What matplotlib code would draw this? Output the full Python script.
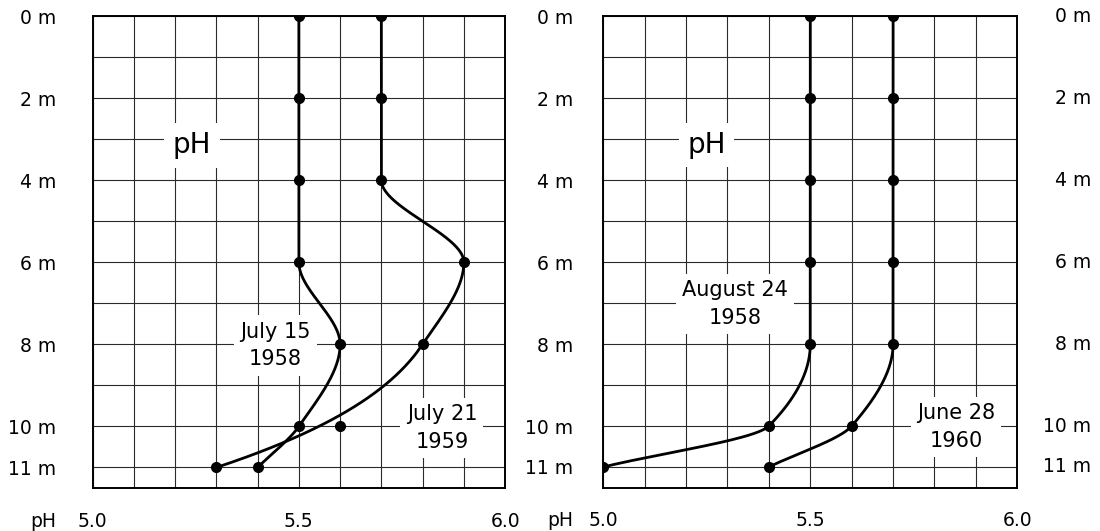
import numpy as np
import matplotlib
matplotlib.use("Agg")
import matplotlib.pyplot as plt

plt.rcParams["font.family"] = ["DejaVu Sans"]

# Depth axis (metres) and pH axis
depth_ticks = [0, 2, 4, 6, 8, 10, 11]
depth_labels = ["0 m", "2 m", "4 m", "6 m", "8 m", "10 m", "11 m"]
ph_ticks = [5.0, 5.5, 6.0]
ph_tick_labels = ["5.0", "5.5", "6.0"]

# Measured profiles
depths = [0, 2, 4, 6, 8, 10, 11]
ph_july15_1958 = [5.5, 5.5, 5.5, 5.5, 5.6, 5.5, 5.4]
ph_july21_1959 = [5.7, 5.7, 5.7, 5.9, 5.8, 5.6, 5.3]
on_curve_july21_1959 = [True, True, True, True, True, False, True]
ph_aug24_1958 = [5.5, 5.5, 5.5, 5.5, 5.5, 5.4, 5.0]
ph_june28_1960 = [5.7, 5.7, 5.7, 5.7, 5.7, 5.6, 5.4]

label_july15 = "July 15\n1958"
label_july21 = "July 21\n1959"
label_aug24 = "August 24\n1958"
label_june28 = "June 28\n1960"


def profile_slopes(xk, yk):
    """Fritsch-Carlson derivatives inside, one-sided secants at the ends."""
    xk = np.asarray(xk, float)
    yk = np.asarray(yk, float)
    h = np.diff(xk)
    delta = np.diff(yk) / h
    n = len(xk)
    d = np.zeros(n)
    for k in range(1, n - 1):
        if delta[k - 1] * delta[k] > 0:
            w1 = 2 * h[k] + h[k - 1]
            w2 = h[k] + 2 * h[k - 1]
            d[k] = (w1 + w2) / (w1 / delta[k - 1] + w2 / delta[k])
    d[0] = delta[0]
    d[-1] = delta[-1]
    return d


def hermite(xk, yk, dk, xs):
    xk = np.asarray(xk, float)
    yk = np.asarray(yk, float)
    dk = np.asarray(dk, float)
    h = np.diff(xk)
    idx = np.clip(np.searchsorted(xk, xs) - 1, 0, len(xk) - 2)
    t = (xs - xk[idx]) / h[idx]
    h00 = 2 * t**3 - 3 * t**2 + 1
    h10 = t**3 - 2 * t**2 + t
    h01 = -2 * t**3 + 3 * t**2
    h11 = t**3 - t**2
    return (h00 * yk[idx] + h10 * h[idx] * dk[idx]
            + h01 * yk[idx + 1] + h11 * h[idx] * dk[idx + 1])


def draw_profile(ax, dep, ph, on_curve=None):
    """Smooth profile curve plus the measured points.

    Slopes come from all readings; the curve is pinned only to the
    readings flagged as lying on it.
    """
    dep = np.asarray(dep, float)
    ph = np.asarray(ph, float)
    mask = np.ones(len(dep), bool) if on_curve is None else np.asarray(on_curve)
    slopes = profile_slopes(dep, ph)
    zz = np.linspace(dep[mask].min(), dep[mask].max(), 500)
    ax.plot(hermite(dep[mask], ph[mask], slopes[mask], zz), zz,
            color="black", lw=2.0, solid_capstyle="round", zorder=3)
    ax.plot(ph, dep, "o", color="black", ms=7, zorder=4)


fig = plt.figure(figsize=(11, 5.31), dpi=100)
W, H = 1100.0, 531.0
ax1 = fig.add_axes([92.6 / W, 1 - 488 / H, 412.5 / W, 472 / H])
ax2 = fig.add_axes([603.3 / W, 1 - 487.5 / H, 414 / W, 471.5 / H])

txt_size = 13.5
note_size = 15
for ax, ypad in ((ax1, 26.4), (ax2, 21.6)):
    ax.set_xlim(5.0, 6.0)
    ax.set_ylim(11.5, 0)
    ax.set_xticks(ph_ticks)
    ax.set_xticklabels(ph_tick_labels, fontsize=txt_size)
    ax.set_xticks(np.arange(5.0, 6.001, 0.1), minor=True)
    ax.set_yticks(depth_ticks)
    ax.set_yticklabels(depth_labels, fontsize=txt_size)
    ax.set_yticks(np.arange(0, 12, 1), minor=True)
    ax.tick_params(which="both", length=0)
    ax.tick_params(axis="x", pad=17)
    ax.tick_params(axis="y", pad=ypad)
    ax.set_axisbelow(True)
    ax.grid(which="both", color="#2a2a2a", lw=0.8)
    for sp in ax.spines.values():
        sp.set_linewidth(1.4)
    ax.annotate("pH", xy=(0, 0), xycoords="axes fraction",
                xytext=(-ypad, -17), textcoords="offset points",
                ha="right", va="top", fontsize=txt_size)

box = dict(facecolor="white", edgecolor="none", boxstyle="square,pad=0.3")
note_kw = dict(fontsize=note_size, ha="center", va="center",
               linespacing=1.48, bbox=box)

# Left panel: 1958 / 1959
draw_profile(ax1, depths, ph_july15_1958)
draw_profile(ax1, depths, ph_july21_1959, on_curve_july21_1959)
ax1.text(5.241, 3.15, "pH", fontsize=20, ha="center", va="center", bbox=box)
ax1.text(5.443, 8.03, label_july15, **note_kw)
ax1.text(5.847, 10.04, label_july21, **note_kw)

# Right panel: 1958 / 1960
draw_profile(ax2, depths, ph_aug24_1958)
draw_profile(ax2, depths, ph_june28_1960)
ax2.text(5.25, 3.15, "pH", fontsize=20, ha="center", va="center", bbox=box)
ax2.text(5.318, 7.03, label_aug24, **note_kw)
ax2.text(5.852, 10.03, label_june28, **note_kw)

# Depth labels on the far right
for d, lab in zip(depth_ticks, depth_labels):
    ax2.annotate(lab, xy=(1, d), xycoords=("axes fraction", "data"),
                 xytext=(53, 0), textcoords="offset points",
                 ha="right", va="center", fontsize=txt_size)

fig.savefig("out.png", dpi=100, facecolor="white")
